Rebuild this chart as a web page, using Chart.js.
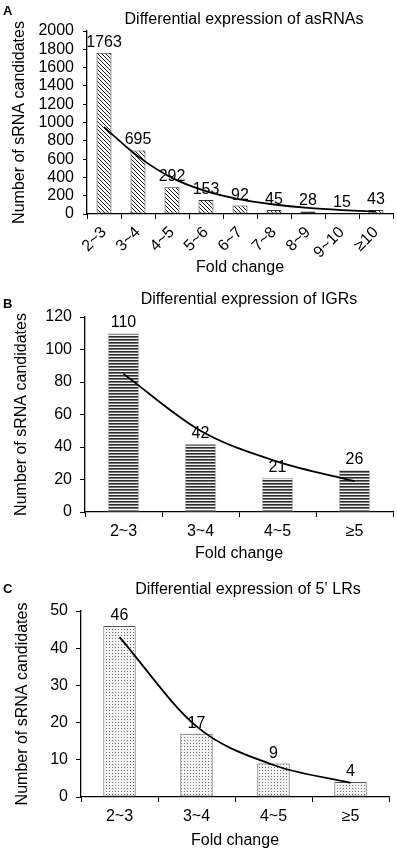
<!DOCTYPE html>
<html>
<head>
<meta charset="utf-8">
<script src="https://cdn.jsdelivr.net/npm/chart.js@4.4.0/dist/chart.umd.min.js"></script>
<style>
  body { margin: 0; background: #fff; }
  canvas { position: absolute; left: 0; }
</style>
</head>
<body>
<canvas id="chartA" style="top:0px"></canvas>
<canvas id="chartB" style="top:285px"></canvas>
<canvas id="chartC" style="top:565px"></canvas>
<script>
// --- data ---
const asLabels = ['2~3', '3~4', '4~5', '5~6', '6~7', '7~8', '8~9', '9~10', '≥10'];
const asCounts = [1763, 695, 292, 153, 92, 45, 28, 15, 43];
const asTrend = [950, 630, 395, 250, 160, 104, 67, 43, 26];
const asMax = 2000;
const asStep = 200;

const igrLabels = ['2~3', '3~4', '4~5', '≥5'];
const igrCounts = [110, 42, 21, 26];
const igrTrend = [85, 50, 31, 19];
const igrMax = 120;
const igrStep = 20;

const lrLabels = ['2~3', '3~4', '4~5', '≥5'];
const lrCounts = [46, 17, 9, 4];
const lrTrend = [43, 19, 8.6, 3.8];
const lrMax = 50;
const lrStep = 10;

const FONT = '"Liberation Sans", Arial, sans-serif';

// small bitmap fills for the bars
function makePattern(kind) {
  const c = document.createElement('canvas');
  const g = c.getContext('2d');
  if (kind === 'diag') {
    c.width = 4; c.height = 4;
    g.fillStyle = '#fff';
    g.fillRect(0, 0, 4, 4);
    g.fillStyle = '#1a1a1a';
    for (let i = 0; i < 4; i++) g.fillRect(i, i, 1, 1);
  } else if (kind === 'stripes') {
    c.width = 1; c.height = 3;
    g.fillStyle = '#f0f0f0';
    g.fillRect(0, 0, 1, 3);
    g.fillStyle = '#2e2e2e';
    g.fillRect(0, 0, 1, 1);
    g.fillStyle = '#777';
    g.fillRect(0, 1, 1, 1);
  } else {
    c.width = 3; c.height = 3;
    g.fillStyle = '#f4f4f4';
    g.fillRect(0, 0, 3, 3);
    g.fillStyle = '#6a6a6a';
    g.fillRect(1, 1, 1, 1);
  }
  return g.createPattern(c, 'repeat');
}

// panel letter + heading
const panelText = {
  id: 'panelText',
  afterDraw(chart, args, opts) {
    const ctx = chart.ctx;
    ctx.save();
    ctx.fillStyle = '#000';
    ctx.textBaseline = 'middle';
    ctx.textAlign = 'left';
    ctx.font = 'bold 13px ' + FONT;
    ctx.fillText(opts.letter, 3, opts.letterY);
    ctx.textAlign = 'center';
    ctx.font = '16px ' + FONT;
    ctx.fillText(opts.title, opts.titleX, opts.titleY);
    ctx.restore();
  }
};

// numbers above bars
const barValues = {
  id: 'barValues',
  afterDatasetsDraw(chart) {
    const ctx = chart.ctx;
    const meta = chart.getDatasetMeta(1);
    const values = chart.data.datasets[1].data;
    ctx.save();
    ctx.fillStyle = '#000';
    ctx.font = '16px ' + FONT;
    ctx.textAlign = 'center';
    ctx.textBaseline = 'alphabetic';
    meta.data.forEach((bar, i) => {
      ctx.fillText(values[i], bar.x, bar.y - 6);
    });
    ctx.restore();
  }
};

function buildChart(id, cfg) {
  const canvas = document.getElementById(id);
  canvas.width = 397;
  canvas.height = cfg.height;
  return new Chart(canvas, {
    type: 'bar',
    data: {
      labels: cfg.labels,
      datasets: [
        {
          type: 'line',
          data: cfg.trend,
          borderColor: '#000',
          borderWidth: 1.8,
          pointRadius: 0,
          cubicInterpolationMode: 'monotone',
          order: 0
        },
        {
          type: 'bar',
          data: cfg.counts,
          backgroundColor: cfg.fill,
          borderColor: cfg.border,
          borderWidth: 1,
          borderSkipped: false,
          barPercentage: cfg.barPct,
          categoryPercentage: 1,
          order: 1
        }
      ]
    },
    options: {
      responsive: false,
      animation: false,
      devicePixelRatio: 1,
      layout: { padding: { top: cfg.top, right: cfg.right, left: 0, bottom: 0 } },
      plugins: {
        legend: { display: false },
        tooltip: { enabled: false },
        panelText: cfg.text
      },
      scales: {
        x: {
          grid: { offset: true, drawOnChartArea: false, tickLength: 5, color: '#000' },
          border: { color: '#000', width: 1.3 },
          ticks: {
            color: '#000',
            font: { family: FONT, size: 16 },
            padding: cfg.xPad,
            autoSkip: false,
            minRotation: cfg.rot,
            maxRotation: cfg.rot
          },
          title: {
            display: true,
            text: 'Fold change',
            color: '#000',
            font: { family: FONT, size: 16 },
            padding: { top: 0, bottom: cfg.xTitlePad }
          },
          afterFit: s => { s.height = cfg.xHeight; }
        },
        y: {
          min: 0,
          max: cfg.max,
          ticks: {
            stepSize: cfg.step,
            autoSkip: false,
            color: '#000',
            font: { family: FONT, size: 16 },
            padding: cfg.yPad,
            callback: v => String(v)
          },
          grid: { drawOnChartArea: false, tickLength: cfg.yTick, color: '#000' },
          border: { color: '#000', width: 1.3 },
          title: {
            display: true,
            text: 'Number of sRNA candidates',
            color: '#000',
            font: { family: FONT, size: 16 },
            padding: { top: cfg.yTitlePad, bottom: 0 }
          },
          afterFit: s => { s.width = cfg.yWidth; }
        }
      }
    },
    plugins: [panelText, barValues]
  });
}

buildChart('chartA', {
  height: 285, top: 31, right: 4, yWidth: 87, xHeight: 71,
  labels: asLabels, counts: asCounts, trend: asTrend, max: asMax, step: asStep,
  fill: makePattern('diag'), border: '#333', barPct: 0.44,
  rot: 45, xPad: 4, xTitlePad: 8, yPad: 9, yTick: 4, yTitlePad: 10,
  text: { letter: 'A', letterY: 11, title: 'Differential expression of asRNAs', titleX: 244, titleY: 20 }
});

buildChart('chartB', {
  height: 280, top: 32, right: 4, yWidth: 85, xHeight: 53,
  labels: igrLabels, counts: igrCounts, trend: igrTrend, max: igrMax, step: igrStep,
  fill: makePattern('stripes'), border: '#bbb', barPct: 0.41,
  rot: 0, xPad: 5, xTitlePad: 2, yPad: 8, yTick: 5, yTitlePad: 12,
  text: { letter: 'B', letterY: 19, title: 'Differential expression of IGRs', titleX: 249, titleY: 15 }
});

buildChart('chartC', {
  height: 287, top: 46, right: 8, yWidth: 81, xHeight: 55,
  labels: lrLabels, counts: lrCounts, trend: lrTrend, max: lrMax, step: lrStep,
  fill: makePattern('dots'), border: '#555', barPct: 0.42,
  rot: 0, xPad: 5, xTitlePad: 2, yPad: 8, yTick: 5, yTitlePad: 13,
  text: { letter: 'C', letterY: 24, title: 'Differential expression of 5\u2019 LRs', titleX: 248, titleY: 25 }
});
</script>
</body>
</html>
